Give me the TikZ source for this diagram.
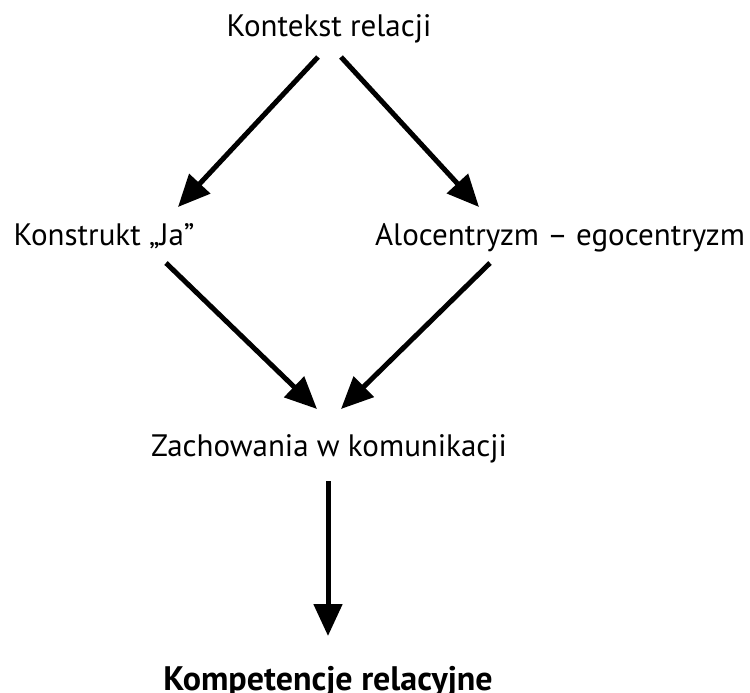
\documentclass[tikz,border=0pt]{standalone}
\usepackage{fontspec}
\setmainfont{PT Sans}
\usetikzlibrary{arrows.meta}
\begin{document}
\begin{tikzpicture}[x=1pt,y=-1pt,
  label/.style={inner sep=0pt, anchor=base, font=\fontsize{31}{36}\selectfont},
  arr/.style={line width=5pt, -{Triangle[length=32pt,width=28pt]}}]
\useasboundingbox (0,0) rectangle (750,693);
% nodes
\node[label] (ctx) at (329,37) {Kontekst relacji};
\node[label] (self) at (104,245) {Konstrukt „Ja”};
\node[label] (alo) at (560,245) {Alocentryzm – egocentryzm};
\node[label] (beh) at (329,456) {Zachowania w komunikacji};
\node[label, font=\fontsize{34}{40}\selectfont\bfseries] (comp) at (328,690) {Kompetencje relacyjne};
% arrow end points
\coordinate (a1s) at (318,57);  \coordinate (a1e) at (178,207);
\coordinate (a2s) at (341,57);  \coordinate (a2e) at (479,207);
\coordinate (a3s) at (166,263); \coordinate (a3e) at (317,409);
\coordinate (a4s) at (490,263); \coordinate (a4e) at (341,409);
\coordinate (a5s) at (328,481); \coordinate (a5e) at (328,636);
% connectors
\draw[arr] (a1s) -- (a1e);
\draw[arr] (a2s) -- (a2e);
\draw[arr] (a3s) -- (a3e);
\draw[arr] (a4s) -- (a4e);
\draw[arr] (a5s) -- (a5e);
\end{tikzpicture}
\end{document}
